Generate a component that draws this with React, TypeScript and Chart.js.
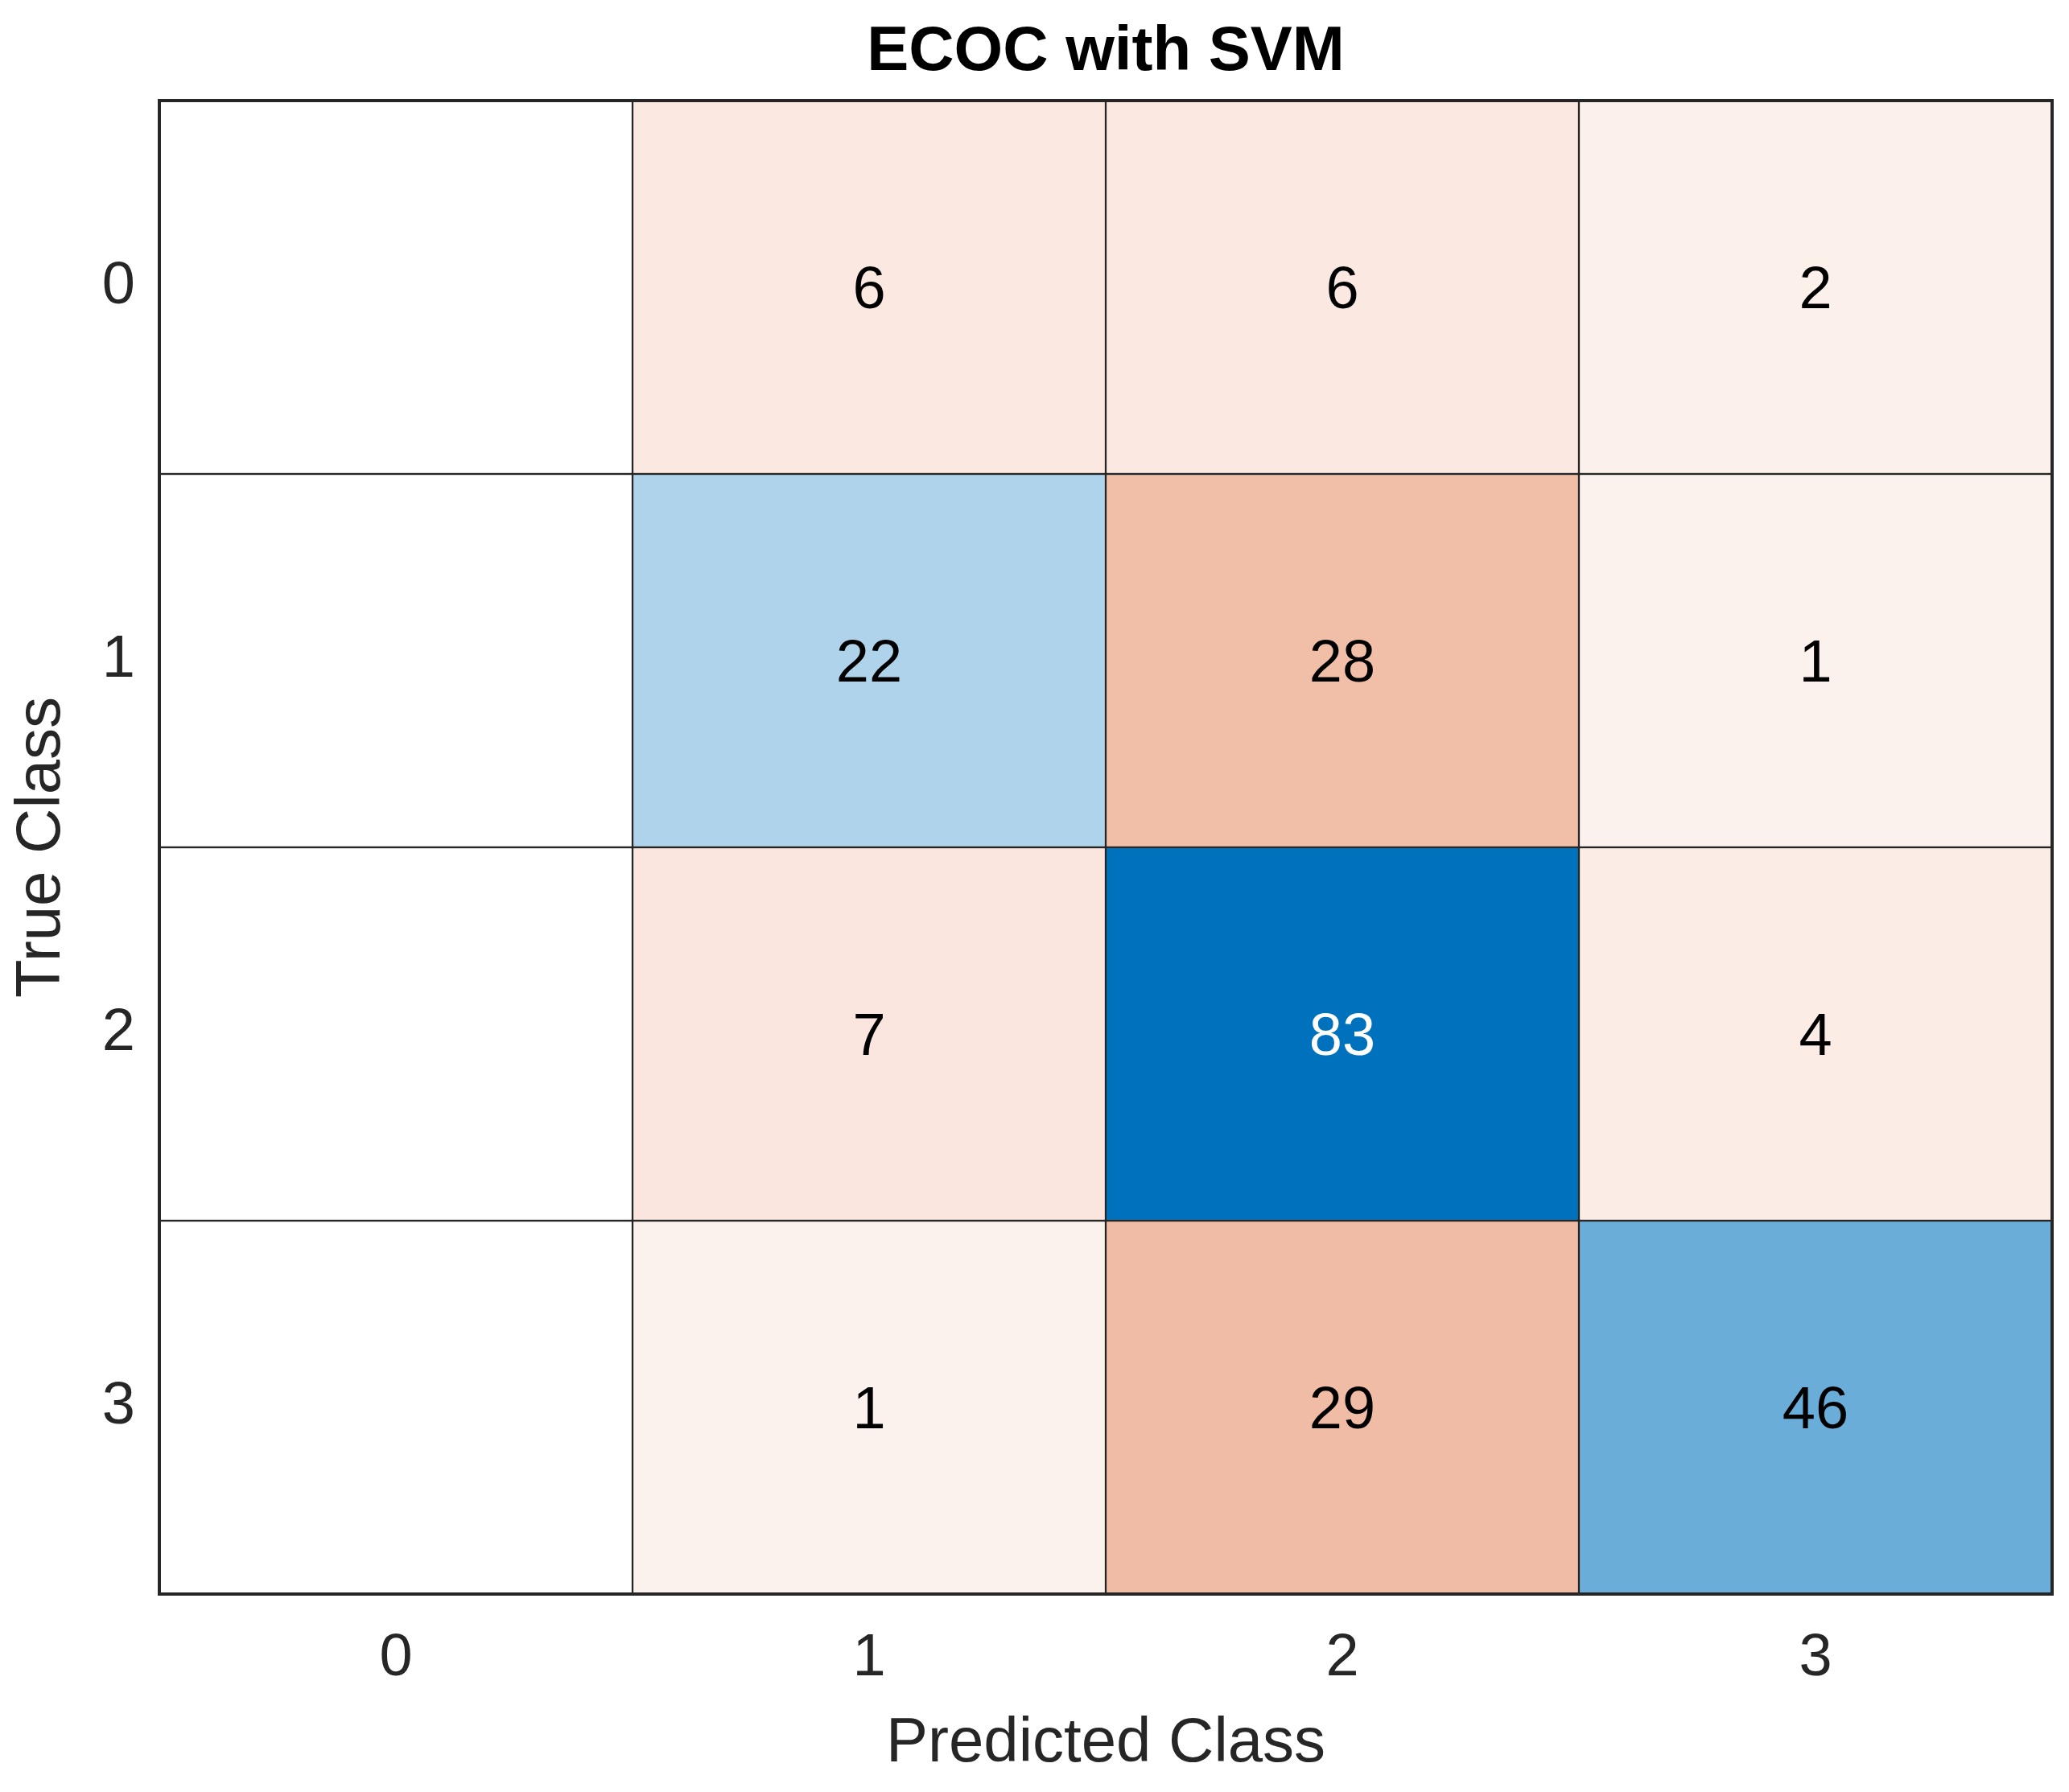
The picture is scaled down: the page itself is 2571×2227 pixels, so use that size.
import React, { useEffect, useRef } from "react";
import { Chart, registerables } from "chart.js";

Chart.register(...registerables);

const titleText = "ECOC with SVM";
const predictedLabels = ["0", "1", "2", "3"];
const trueLabels = ["0", "1", "2", "3"];
const row0 = [0, 6, 6, 2];
const row1 = [0, 22, 28, 1];
const row2 = [0, 7, 83, 4];
const row3 = [0, 1, 29, 46];
const matrix = [row0, row1, row2, row3];

const DIAG_RGB = [0, 114, 189];
const OFF_RGB = [217, 83, 25];
const LINE = "#262626";
const FONT = "'Liberation Sans', Arial, Helvetica, sans-serif";

const maxVal = Math.max(...matrix.flat());

function intensity(v: number) {
  return v === 0 ? 0 : 0.065 + 0.935 * (v / maxVal);
}

function cellColor(v: number, diag: boolean) {
  const base = diag ? DIAG_RGB : OFF_RGB;
  const t = intensity(v);
  const c = base.map((b) => Math.round(255 - t * (255 - b)));
  return `rgb(${c[0]},${c[1]},${c[2]})`;
}

const cellTextPlugin = {
  id: "cellText",
  afterDatasetsDraw(chart: any) {
    const ctx = chart.ctx;
    ctx.save();
    ctx.font = `74px ${FONT}`;
    ctx.textAlign = "center";
    ctx.textBaseline = "middle";
    chart.data.datasets.forEach((ds: any, i: number) => {
      const meta = chart.getDatasetMeta(i);
      meta.data.forEach((bar: any, j: number) => {
        const v = matrix[i][j];
        if (v === 0) return;
        const p = bar.getCenterPoint();
        ctx.fillStyle = intensity(v) > 0.7 ? "#ffffff" : "#000000";
        ctx.fillText(String(v), p.x, p.y + 6);
      });
    });
    ctx.restore();
  },
};

const framePlugin = {
  id: "frame",
  afterDatasetsDraw(chart: any) {
    const { ctx, chartArea } = chart;
    ctx.save();
    ctx.strokeStyle = LINE;
    ctx.lineWidth = 4;
    ctx.strokeRect(
      chartArea.left,
      chartArea.top,
      chartArea.right - chartArea.left,
      chartArea.bottom - chartArea.top
    );
    ctx.restore();
  },
};

export default function App() {
  const canvasRef = useRef<HTMLCanvasElement | null>(null);

  useEffect(() => {
    document.body.style.margin = "0";
    document.body.style.overflow = "hidden";
    const canvas = canvasRef.current;
    if (!canvas) return;

    const datasets = matrix.map((row, i) => ({
      label: `True ${trueLabels[i]}`,
      data: row.map(() => [i, i + 1] as [number, number]),
      backgroundColor: row.map((v, j) => cellColor(v, i === j)),
      borderColor: LINE,
      borderWidth: 1.5,
      borderSkipped: false as const,
      barPercentage: 1,
      categoryPercentage: 1,
    }));

    const chart = new Chart(canvas, {
      type: "bar",
      data: { labels: predictedLabels, datasets },
      options: {
        animation: false,
        responsive: true,
        maintainAspectRatio: false,
        layout: { padding: { top: 0, right: 21, bottom: 0, left: 0 } },
        plugins: {
          legend: { display: false },
          tooltip: { enabled: false },
          title: {
            display: true,
            text: titleText,
            fullSize: false,
            color: "#000000",
            font: { family: FONT, size: 78, weight: "bold", lineHeight: 1.2 },
            padding: { top: 19, bottom: 12.4 },
          },
        },
        scales: {
          x: {
            type: "category",
            stacked: true,
            offset: true,
            grid: { display: false, drawTicks: false },
            border: { display: false },
            ticks: {
              color: LINE,
              padding: 36,
              maxRotation: 0,
              font: { family: FONT, size: 74, lineHeight: 1.2 },
            },
            title: {
              display: true,
              text: "Predicted Class",
              color: LINE,
              font: { family: FONT, size: 78, lineHeight: 1.2 },
              padding: { top: 0, bottom: 13 },
            },
            afterFit(scale: any) {
              scale.height = 246;
            },
          },
          y: {
            type: "linear",
            stacked: false,
            reverse: true,
            min: 0,
            max: trueLabels.length,
            grid: { display: false, drawTicks: false },
            border: { display: false },
            afterBuildTicks(scale: any) {
              scale.ticks = trueLabels.map((_, i) => ({ value: i + 0.5 }));
            },
            ticks: {
              color: LINE,
              padding: 30,
              font: { family: FONT, size: 74, lineHeight: 1.2 },
              callback: (_v: any, idx: number) => trueLabels[idx],
            },
            title: {
              display: true,
              text: "True Class",
              color: LINE,
              font: { family: FONT, size: 78, lineHeight: 1.2 },
              padding: { top: 6, bottom: 0 },
            },
            afterFit(scale: any) {
              scale.width = 198;
            },
          },
        },
      },
      plugins: [cellTextPlugin, framePlugin],
    });

    return () => chart.destroy();
  }, []);

  return (
    <div style={{ width: "2571px", height: "2227px", position: "relative" }}>
      <canvas ref={canvasRef} />
    </div>
  );
}
